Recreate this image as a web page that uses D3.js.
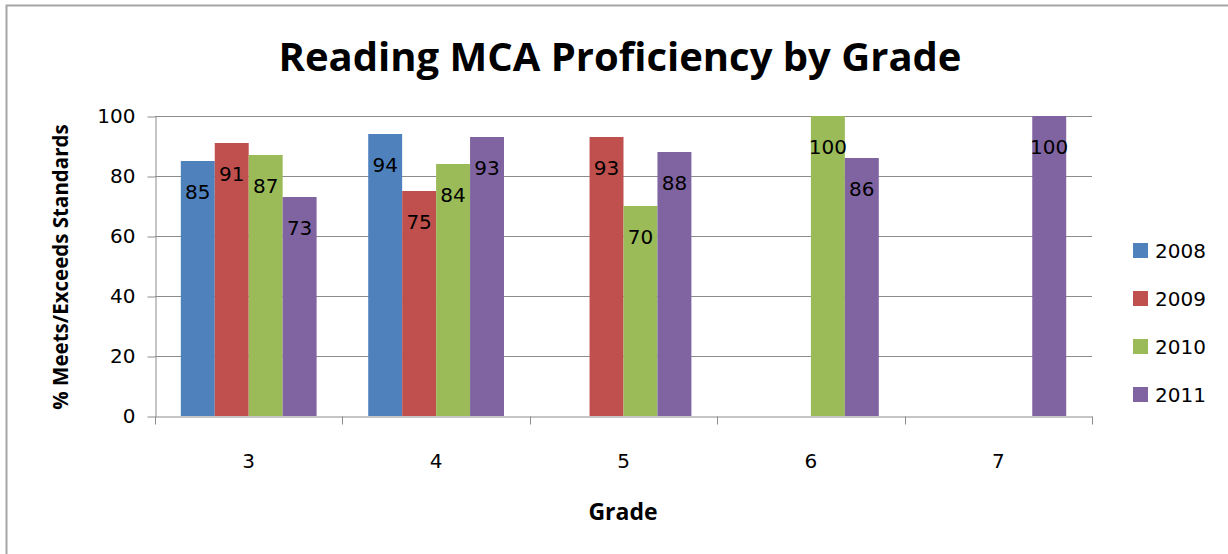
<!DOCTYPE html>
<html>
<head>
<meta charset="utf-8">
<script src="https://cdn.jsdelivr.net/npm/d3@7"></script>
<style>
  body { margin: 0; background: #fff; }
  svg { display: block; }
</style>
</head>
<body>
<div id="plot"></div>
<script>
// values (null = no bar)
var grades = ["3", "4", "5", "6", "7"];
var years = ["2008", "2009", "2010", "2011"];
var v2008 = [85, 94, null, null, null];
var v2009 = [91, 75, 93, null, null];
var v2010 = [87, 84, 70, 100, null];
var v2011 = [73, 93, 88, 86, 100];
var yTicks = [0, 20, 40, 60, 80, 100];
var colors = ["#4F81BD", "#C0504D", "#9BBB59", "#8064A2"];

var seriesVals = [v2008, v2009, v2010, v2011];
var W = 1228, H = 554;
var margin = { top: 116, left: 155, right: 136, bottom: 138 };

var svg = d3.select("#plot").append("svg")
  .attr("width", W)
  .attr("height", H);

// outer chart border (only top & left are inside the window)
svg.append("rect")
  .attr("x", 6.5).attr("y", 5.5)
  .attr("width", 1400).attr("height", 700)
  .attr("fill", "none")
  .attr("stroke", "#a6a6a6")
  .attr("stroke-width", 2);

var x0 = d3.scaleBand()
  .domain(grades)
  .range([margin.left, W - margin.right]);

var x1 = d3.scaleBand()
  .domain(years)
  .range([0, x0.bandwidth()])
  .paddingOuter(0.76);

var y = d3.scaleLinear()
  .domain([0, 100])
  .range([H - margin.bottom, margin.top]);

var tickFont = "'DejaVu Sans', Verdana, sans-serif";
var boldFont = "'Open Sans', Lato, sans-serif";

// gridlines
svg.append("g")
  .selectAll("line")
  .data(yTicks.filter(function(d){ return d > 0; }))
  .enter().append("line")
  .attr("x1", margin.left).attr("x2", W - margin.right)
  .attr("y1", function(d){ return y(d) + 0.5; })
  .attr("y2", function(d){ return y(d) + 0.5; })
  .attr("stroke", "#8c8c8c");

// y axis
var yAxis = svg.append("g")
  .attr("transform", "translate(" + (margin.left + 0.5) + ",0.5)")
  .call(d3.axisLeft(y).tickValues(yTicks).tickSize(8).tickSizeOuter(0).tickPadding(12));

// x axis
var xAxis = svg.append("g")
  .attr("transform", "translate(0," + (y(0) + 0.5) + ")")
  .call(d3.axisBottom(x0).tickSize(0).tickPadding(37));

// x ticks between categories
var bounds = grades.map(function(g){ return x0(g); }).concat([W - margin.right]);
xAxis.selectAll(".sep")
  .data(bounds)
  .enter().append("line")
  .attr("class", "sep")
  .attr("x1", function(d){ return Math.round(d) + 0.5; })
  .attr("x2", function(d){ return Math.round(d) + 0.5; })
  .attr("y1", 0).attr("y2", 8)
  .attr("stroke", "#8c8c8c");

[yAxis, xAxis].forEach(function(a){
  a.selectAll("path").attr("stroke", "#8c8c8c");
  a.selectAll(".tick line").attr("stroke", "#8c8c8c");
  a.selectAll("text")
    .attr("fill", "#000")
    .style("font-family", tickFont)
    .style("font-size", "20px");
});

// bars
var groups = svg.append("g")
  .selectAll("g")
  .data(grades)
  .enter().append("g")
  .attr("transform", function(g){ return "translate(" + x0(g) + ",0)"; });

var bars = groups.selectAll("g.bar")
  .data(function(g, gi){
    return years.map(function(yr, si){
      return { year: yr, value: seriesVals[si][gi], color: colors[si] };
    }).filter(function(d){ return d.value != null; });
  })
  .enter().append("g")
  .attr("class", "bar");

bars.append("rect")
  .attr("x", function(d){ return x1(d.year); })
  .attr("width", x1.bandwidth())
  .attr("y", function(d){ return y(d.value); })
  .attr("height", function(d){ return y(0) - y(d.value); })
  .attr("fill", function(d){ return d.color; });

bars.append("text")
  .attr("x", function(d){ return x1(d.year) + x1.bandwidth() / 2; })
  .attr("y", function(d){ return y(d.value) + 38; })
  .attr("text-anchor", "middle")
  .style("font-family", tickFont)
  .style("font-size", "20px")
  .attr("fill", "#000")
  .text(function(d){ return d.value; });

// title
svg.append("text")
  .attr("x", 620).attr("y", 71)
  .attr("text-anchor", "middle")
  .style("font-family", boldFont)
  .style("font-weight", "bold")
  .style("font-size", "40px")
  .text("Reading MCA Proficiency by Grade");

// axis titles
svg.append("text")
  .attr("x", 623).attr("y", 520)
  .attr("text-anchor", "middle")
  .style("font-family", boldFont)
  .style("font-weight", "bold")
  .style("font-size", "23px")
  .text("Grade");

svg.append("text")
  .attr("transform", "translate(68,267) rotate(-90)")
  .attr("text-anchor", "middle")
  .style("font-family", boldFont)
  .style("font-weight", "bold")
  .style("font-size", "20.5px")
  .text("% Meets/Exceeds Standards");

// legend
var legend = svg.append("g")
  .selectAll("g")
  .data(years)
  .enter().append("g")
  .attr("transform", function(d, i){ return "translate(1133," + (243 + i * 48) + ")"; });

legend.append("rect")
  .attr("width", 15).attr("height", 15)
  .attr("fill", function(d, i){ return colors[i]; });

legend.append("text")
  .attr("x", 22).attr("y", 15)
  .style("font-family", tickFont)
  .style("font-size", "20px")
  .text(function(d){ return d; });
</script>
</body>
</html>
